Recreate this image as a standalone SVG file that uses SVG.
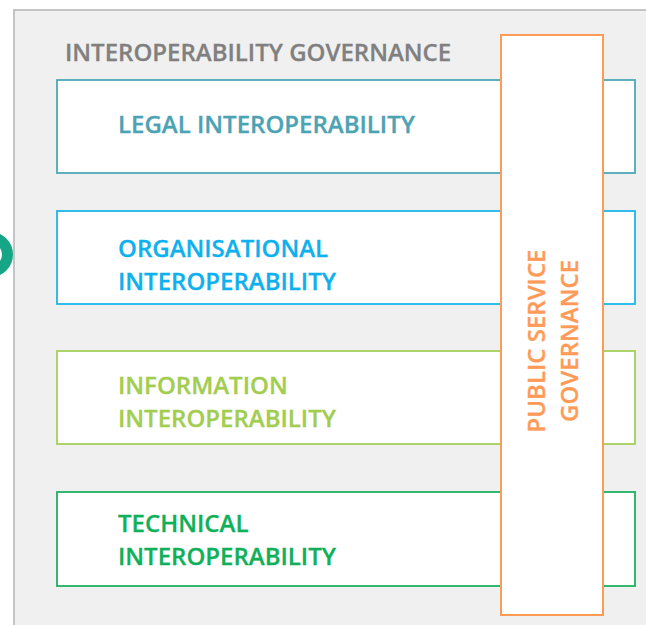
<svg xmlns="http://www.w3.org/2000/svg" width="646" height="625" viewBox="0 0 646 625">
<style>
text{font-family:"Open Sans","Noto Sans","Liberation Sans",sans-serif;font-weight:600;font-size:24px;stroke-width:.3}
.b{fill:#fff;stroke-width:1.8}
</style>
<rect width="646" height="625" fill="#fff"/>
<circle id="cut" cx="-9.5" cy="254.5" r="17" fill="none" stroke="#17a685" stroke-width="11"/>
<rect id="background" x="14" y="10" width="640" height="630" fill="#f0f0f0" stroke="#bfbfbf" stroke-width="1.8"/>
<text x="65" y="61" fill="#808080" stroke="#808080">INTEROPERABILITY GOVERNANCE</text>
<g id="legal"><rect class="b" x="57" y="80" width="578" height="93" stroke="#4ba8b8"/><text x="118" y="133" fill="#4ba3b4" stroke="#4ba3b4">LEGAL INTEROPERABILITY</text></g>
<g id="organisational" fill="#0fb0ee" stroke="#0fb0ee"><rect class="b" x="57" y="211" width="578" height="93" stroke="#1cb5ea"/><text x="118" y="257">ORGANISATIONAL</text><text x="118" y="290">INTEROPERABILITY</text></g>
<g id="information" fill="#a2cd4f" stroke="#a2cd4f"><rect class="b" x="57" y="351" width="578" height="93" stroke="#a5cf5b"/><text x="118" y="394">INFORMATION</text><text x="118" y="427">INTEROPERABILITY</text></g>
<g id="technical" fill="#10b05a" stroke="#10b05a"><rect class="b" x="57" y="492" width="578" height="94" stroke="#1fb161"/><text x="118" y="532">TECHNICAL</text><text x="118" y="565">INTEROPERABILITY</text></g>
<g id="public-service" fill="#ff9a57" stroke="#ff9a57"><rect x="501" y="35" width="102" height="580" fill="#fff" stroke="#ff9a57" stroke-width="2"/>
<text transform="translate(545 341) rotate(-90)" text-anchor="middle">PUBLIC SERVICE</text>
<text transform="translate(578 341) rotate(-90)" text-anchor="middle">GOVERNANCE</text></g>
<g id="connectors"/>
</svg>
